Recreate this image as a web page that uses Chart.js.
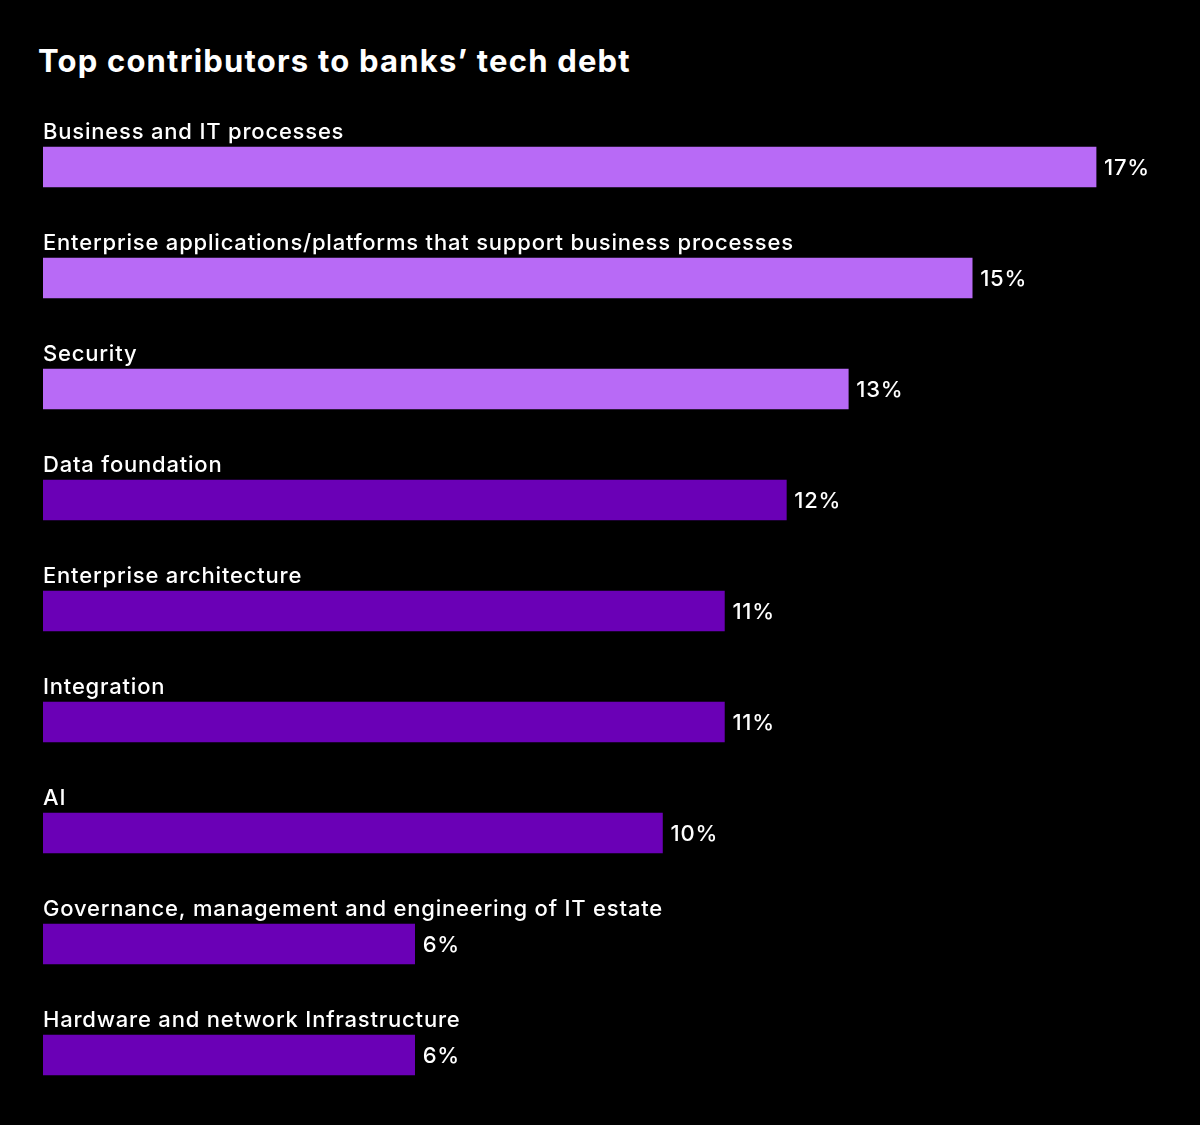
<!DOCTYPE html>
<html>
<head>
<meta charset="utf-8">
<title>Top contributors to banks’ tech debt</title>
<script src="https://cdn.jsdelivr.net/npm/chart.js@4.4.1/dist/chart.umd.min.js"></script>
<style>
	html, body { margin: 0; padding: 0; background: #000; }
	.wrap { position: relative; width: 1200px; height: 1125px; }
	h1 {
		position: absolute; left: 38px; top: 41px; margin: 0;
		font-family: Inter, sans-serif; font-weight: 700; font-size: 31px;
		line-height: 40px; color: #fff; letter-spacing: 1.2px;
	}
	canvas { position: absolute; left: 0; top: 0; }
</style>
</head>
<body>
<div class="wrap">
	<h1>Top contributors to banks’ tech debt</h1>
	<canvas id="barChart" width="1200" height="1125"></canvas>
</div>
<script>
var categories = [
	'Business and IT processes',
	'Enterprise applications/platforms that support business processes',
	'Security',
	'Data foundation',
	'Enterprise architecture',
	'Integration',
	'AI',
	'Governance, management and engineering of IT estate',
	'Hardware and network Infrastructure'
];
var values = [17, 15, 13, 12, 11, 11, 10, 6, 6];
var highlightCount = 3;

var lightPurple = '#b86af6';
var darkPurple = '#6a00b6';
var labelFont = '500 22px Inter, sans-serif';

// category names above each bar, value labels to the right
var barLabels = {
	id: 'barLabels',
	afterDatasetsDraw: function(chart) {
		var ctx = chart.ctx;
		var meta = chart.getDatasetMeta(0);
		ctx.save();
		ctx.fillStyle = '#ffffff';
		ctx.font = labelFont;
		ctx.letterSpacing = '0.8px';
		ctx.textBaseline = 'alphabetic';
		ctx.textAlign = 'left';
		meta.data.forEach(function(bar, i) {
			ctx.fillText(categories[i], bar.base, bar.y - 28);
			ctx.fillText(values[i] + '%', bar.x + 8, bar.y + 8);
		});
		ctx.restore();
	}
};

new Chart(document.getElementById('barChart'), {
	type: 'bar',
	data: {
		labels: categories,
		datasets: [{
			data: values,
			backgroundColor: function(c) { return c.dataIndex < highlightCount ? lightPurple : darkPurple; },
			borderWidth: 0,
			barThickness: 40
		}]
	},
	options: {
		indexAxis: 'y',
		responsive: false,
		animation: false,
		devicePixelRatio: 1,
		layout: { padding: { left: 43, right: 42, top: 111.5, bottom: 14.5 } },
		scales: {
			x: { display: false, min: 0, max: 18 },
			y: { display: false }
		},
		plugins: {
			legend: { display: false },
			tooltip: { enabled: false }
		}
	},
	plugins: [barLabels]
});
</script>
</body>
</html>
